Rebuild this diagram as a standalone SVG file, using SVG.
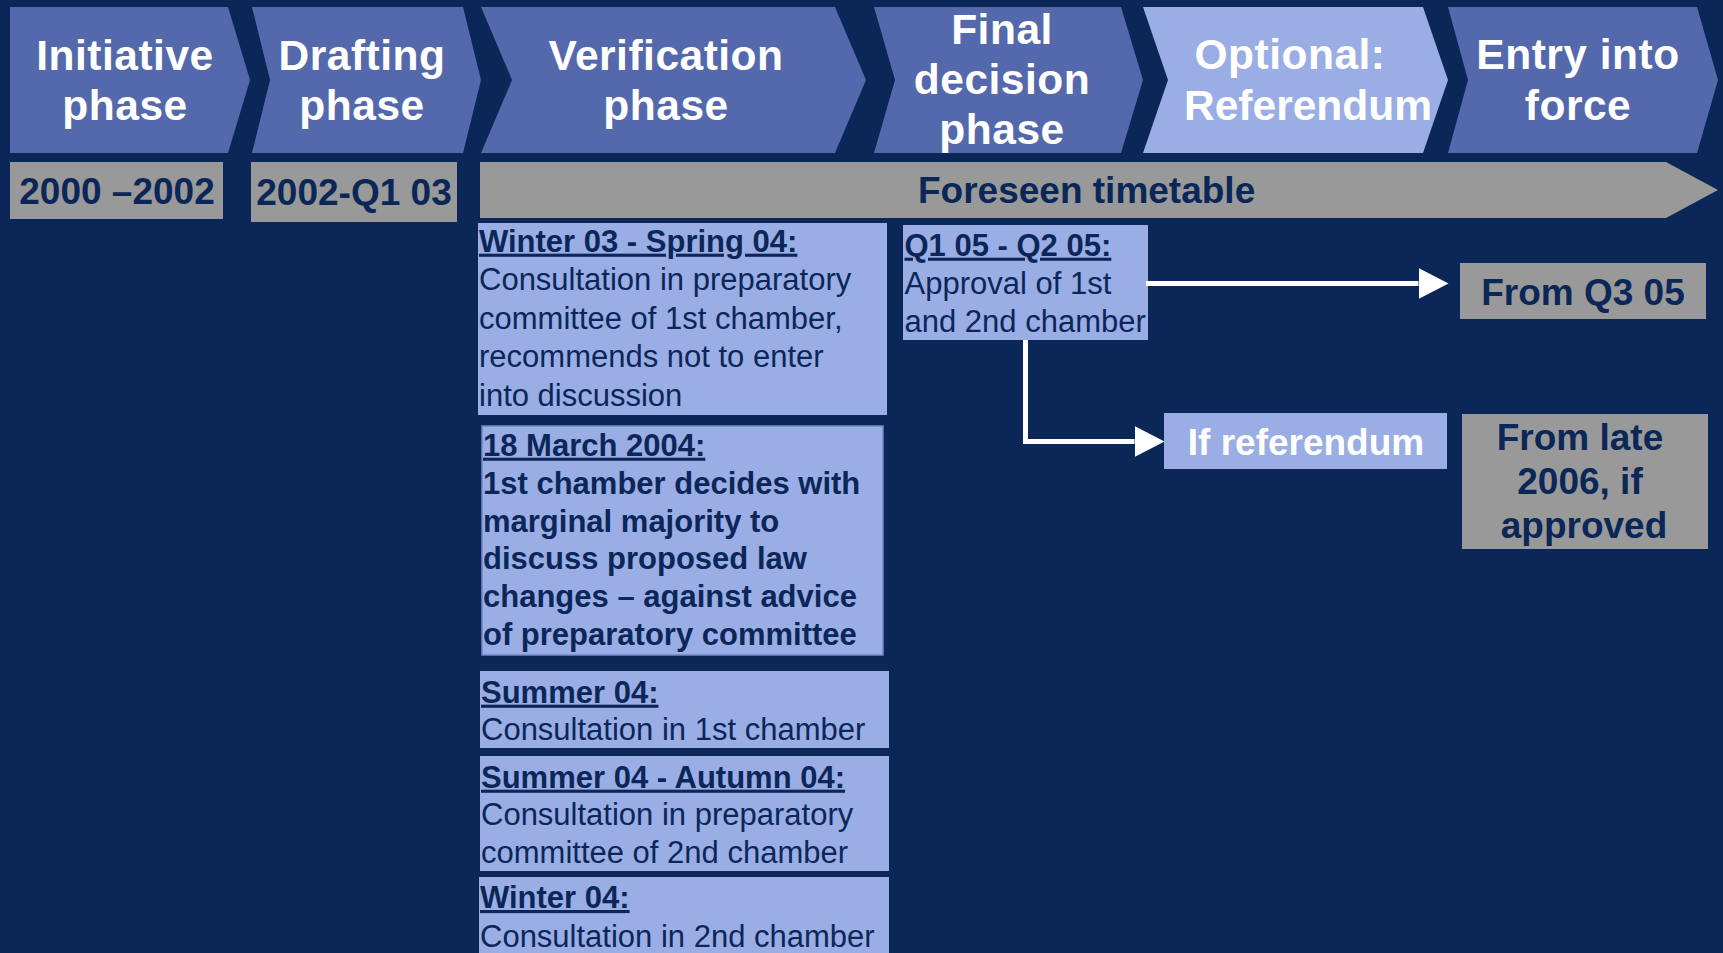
<svg xmlns="http://www.w3.org/2000/svg" width="1723" height="953" viewBox="0 0 1723 953">
<defs>
<style>
.hd{font-family:"Liberation Sans",Arial,sans-serif;font-weight:bold;font-size:42.5px;letter-spacing:0.5px;fill:#ffffff;text-anchor:middle}
.chev{fill:#5468AC}
.chevl{fill:#9AADE5}
.gray{fill:#999999}
.lb{fill:#9AADE5}
.dt{font-family:"Liberation Sans",Arial,sans-serif;font-weight:bold;font-size:37px;fill:#0B2758}
.mid{text-anchor:middle}
.bt{font-family:"Liberation Sans",Arial,sans-serif;font-size:31px;fill:#0B2758}
.bb{font-weight:bold}
.u{text-decoration:underline}
.conn{stroke:#ffffff;stroke-width:5;fill:none}
</style>
<marker id="ah" markerUnits="userSpaceOnUse" markerWidth="30" markerHeight="31" refX="0" refY="15.5" orient="auto"><path d="M0,0 L30,15.5 L0,31 z" fill="#ffffff"/></marker>
</defs>
<rect x="0" y="0" width="1723" height="953" fill="#0B2758"/>

<g id="phase-initiative">
<polygon class="chev" points="10,7 228,7 250,80 228,153 10,153"/>
<text class="hd" x="125" y="70">Initiative</text>
<text class="hd" x="125" y="120">phase</text>
</g>
<g id="phase-drafting">
<polygon class="chev" points="252,7 463,7 481,80 463,153 252,153 270,80"/>
<text class="hd" x="362" y="70">Drafting</text>
<text class="hd" x="362" y="120">phase</text>
</g>
<g id="phase-verification">
<polygon class="chev" points="481,7 835,7 866,80 835,153 481,153 512,80"/>
<text class="hd" x="666" y="70">Verification</text>
<text class="hd" x="666" y="120">phase</text>
</g>
<g id="phase-final">
<polygon class="chev" points="874,7 1121,7 1143,80 1121,153 874,153 895,80"/>
<text class="hd" x="1002" y="43.5">Final</text>
<text class="hd" x="1002" y="94">decision</text>
<text class="hd" x="1002" y="144">phase</text>
</g>
<g id="phase-referendum">
<polygon class="chevl" points="1143,7 1423,7 1448,80 1423,153 1143,153 1168,80"/>
<text class="hd" x="1290" y="69">Optional:</text>
<text class="hd" x="1308" y="119.5" style="letter-spacing:0">Referendum</text>
</g>
<g id="phase-entry">
<polygon class="chev" points="1448,7 1697,7 1718,80 1697,153 1448,153 1468,80"/>
<text class="hd" x="1578" y="69">Entry into</text>
<text class="hd" x="1578" y="119.5">force</text>
</g>

<g id="date-initiative">
<rect class="gray" x="10" y="162" width="213" height="57"/>
<text class="dt mid" x="117" y="203.5">2000 –2002</text>
</g>
<g id="date-drafting">
<rect class="gray" x="251" y="162" width="206" height="60"/>
<text class="dt mid" x="354" y="205">2002-Q1 03</text>
</g>
<g id="foreseen-timetable">
<polygon class="gray" points="480,162 1666,162 1718,190 1666,218 480,218"/>
<text class="dt" x="918" y="203.3">Foreseen timetable</text>
</g>

<g id="box-winter03">
<rect class="lb" x="478" y="223" width="409" height="192"/>
<text class="bt" x="479" y="251.7"><tspan class="bb u">Winter 03 - Spring 04:</tspan></text>
<text class="bt" x="479" y="290.2">Consultation in preparatory</text>
<text class="bt" x="479" y="328.7">committee of 1st chamber,</text>
<text class="bt" x="479" y="367.2">recommends not to enter</text>
<text class="bt" x="479" y="405.7">into discussion</text>
</g>
<g id="box-march2004">
<rect class="lb" x="482" y="426" width="401" height="229" stroke="#7389C8" stroke-width="1.5"/>
<text class="bt bb" x="483" y="455.7"><tspan class="u">18 March 2004:</tspan></text>
<text class="bt bb" x="483" y="493.6">1st chamber decides with</text>
<text class="bt bb" x="483" y="531.5">marginal majority to</text>
<text class="bt bb" x="483" y="569.4">discuss proposed law</text>
<text class="bt bb" x="483" y="607.3">changes – against advice</text>
<text class="bt bb" x="483" y="645.2">of preparatory committee</text>
</g>
<g id="box-summer04">
<rect class="lb" x="480" y="671" width="409" height="77"/>
<text class="bt" x="481" y="702.7"><tspan class="bb u">Summer 04:</tspan></text>
<text class="bt" x="481" y="740">Consultation in 1st chamber</text>
</g>
<g id="box-autumn04">
<rect class="lb" x="480" y="756" width="409" height="115"/>
<text class="bt" x="481" y="787.7"><tspan class="bb u">Summer 04 - Autumn 04:</tspan></text>
<text class="bt" x="481" y="825">Consultation in preparatory</text>
<text class="bt" x="481" y="862.7">committee of 2nd chamber</text>
</g>
<g id="box-winter04">
<rect class="lb" x="479" y="877" width="410" height="80"/>
<text class="bt" x="480" y="908"><tspan class="bb u">Winter 04:</tspan></text>
<text class="bt" x="480" y="946.7">Consultation in 2nd chamber</text>
</g>

<g id="box-q105">
<rect class="lb" x="903" y="225" width="245" height="115"/>
<text class="bt" x="904.5" y="255.7"><tspan class="bb u">Q1 05 - Q2 05:</tspan></text>
<text class="bt" x="904.5" y="294">Approval of 1st</text>
<text class="bt" x="904.5" y="331.7">and 2nd chamber</text>
</g>
<g id="box-fromq305">
<rect class="gray" x="1460" y="263" width="246" height="56"/>
<text class="dt mid" x="1583" y="305">From Q3 05</text>
</g>
<g id="box-ifreferendum">
<rect class="lb" x="1164" y="413" width="283" height="56"/>
<text class="dt mid" x="1306" y="455" style="fill:#ffffff">If referendum</text>
</g>
<g id="box-fromlate2006">
<rect class="gray" x="1462" y="414" width="246" height="135"/>
<text class="dt mid" x="1580" y="450">From late</text>
<text class="dt mid" x="1580" y="494">2006, if</text>
<text class="dt mid" x="1584" y="538">approved</text>
</g>

<g id="connectors">
<path class="conn" d="M1146,283.5 H1418.5" marker-end="url(#ah)"/>
<path class="conn" d="M1025.5,340 V441.5 H1134.5" marker-end="url(#ah)"/>
</g>
</svg>
